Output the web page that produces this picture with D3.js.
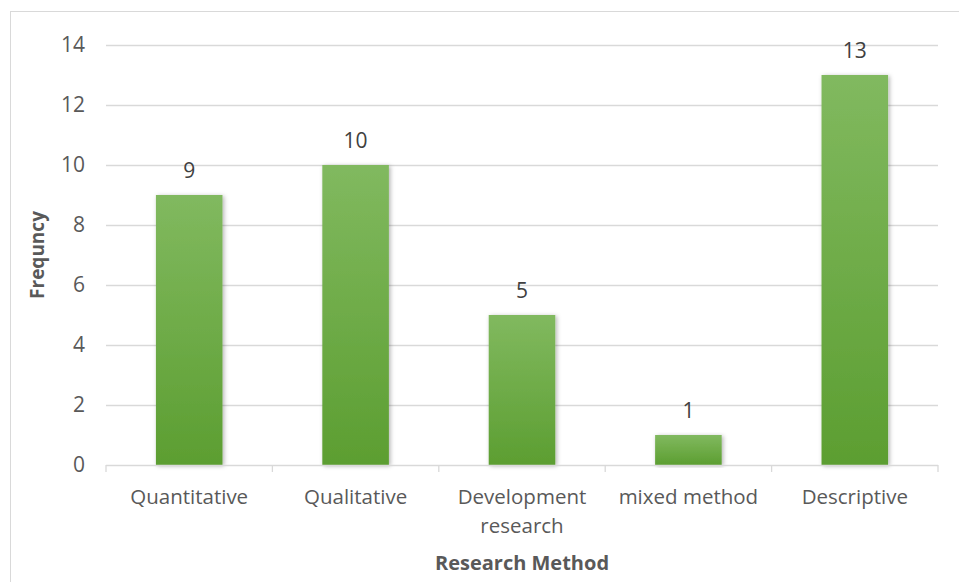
<!DOCTYPE html>
<html>
<head>
<meta charset="utf-8">
<script src="https://cdn.jsdelivr.net/npm/d3@7"></script>
<style>
  body { margin: 0; background: #fff; }
  svg text { font-family: "Open Sans", sans-serif; }
</style>
</head>
<body>
<div id="chart"></div>
<script>
(function () {
  'use strict';
  /* global d3 */

  var categories = ['Quantitative', 'Qualitative', 'Development research', 'mixed method', 'Descriptive'],
      values = [9, 10, 5, 1, 13],
      yTicks = [0, 2, 4, 6, 8, 10, 12, 14];

  var w = 959,
      h = 582,
      margin = {top: 45, right: 21, bottom: 117, left: 106};

  var svg = d3.select('#chart')
    .append('svg')
    .attr('width', w)
    .attr('height', h);

  // outer frame (only top + left visible)
  svg.append('rect')
    .attr('x', 10.5).attr('y', 11.5)
    .attr('width', 960).attr('height', 600)
    .attr('fill', 'none')
    .attr('stroke', '#d9d9d9');

  var defs = svg.append('defs');
  var grad = defs.append('linearGradient')
    .attr('id', 'barGrad')
    .attr('x1', 0).attr('y1', 0).attr('x2', 0).attr('y2', 1);
  grad.append('stop').attr('offset', '0%').attr('stop-color', '#81b95f');
  grad.append('stop').attr('offset', '100%').attr('stop-color', '#5c9e31');

  var shadow = defs.append('filter').attr('id', 'shadow')
    .attr('x', '-20%').attr('y', '-10%').attr('width', '140%').attr('height', '120%');
  shadow.append('feDropShadow')
    .attr('dx', 1.5).attr('dy', 1).attr('stdDeviation', 2)
    .attr('flood-color', '#000').attr('flood-opacity', 0.3);

  var x = d3.scaleBand()
    .domain(categories)
    .range([margin.left, w - margin.right])
    .paddingInner(0.6)
    .paddingOuter(0.3);

  var y = d3.scaleLinear()
    .domain([0, 14])
    .range([h - margin.bottom, margin.top]);

  // gridlines
  svg.append('g')
    .selectAll('line')
    .data(yTicks.slice(1))
    .enter()
    .append('line')
    .attr('x1', margin.left)
    .attr('x2', w - margin.right)
    .attr('y1', function (d) { return Math.round(y(d)) + 0.5; })
    .attr('y2', function (d) { return Math.round(y(d)) + 0.5; })
    .attr('stroke', '#d9d9d9')
    .attr('stroke-width', 1.3);

  // y axis labels
  var yAxis = d3.axisLeft(y).tickValues(yTicks).tickSize(0).tickPadding(21);
  var gy = svg.append('g')
    .attr('transform', 'translate(' + margin.left + ',0)')
    .call(yAxis);
  gy.select('.domain').remove();
  gy.selectAll('text')
    .attr('font-size', 21)
    .attr('fill', '#595959')
    .style('font-family', '"Open Sans", sans-serif');

  // bars
  svg.append('g')
    .selectAll('rect')
    .data(values)
    .enter()
    .append('rect')
    .attr('x', function (d, i) { return x(categories[i]); })
    .attr('y', function (d) { return y(d); })
    .attr('width', x.bandwidth())
    .attr('height', function (d) { return y(0) - y(d); })
    .attr('fill', 'url(#barGrad)')
    .attr('filter', 'url(#shadow)');

  // value labels
  svg.append('g')
    .selectAll('text')
    .data(values)
    .enter()
    .append('text')
    .text(function (d) { return d; })
    .attr('x', function (d, i) { return x(categories[i]) + x.bandwidth() / 2; })
    .attr('y', function (d) { return y(d) - 17; })
    .attr('text-anchor', 'middle')
    .attr('font-size', 21)
    .attr('fill', '#404040');

  // x axis
  var step = x.step();
  var x0 = margin.left;
  svg.append('line')
    .attr('x1', margin.left).attr('x2', w - margin.right)
    .attr('y1', y(0) + 0.5).attr('y2', y(0) + 0.5)
    .attr('stroke', '#d9d9d9').attr('stroke-width', 1.3);
  svg.append('g')
    .selectAll('line')
    .data(d3.range(categories.length + 1))
    .enter()
    .append('line')
    .attr('x1', function (d) { return x0 + d * step; })
    .attr('x2', function (d) { return x0 + d * step; })
    .attr('y1', y(0))
    .attr('y2', y(0) + 7)
    .attr('stroke', '#d9d9d9').attr('stroke-width', 1.3);

  var catLines = [['Quantitative'], ['Qualitative'], ['Development', 'research'], ['mixed method'], ['Descriptive']];
  var lab = svg.append('g')
    .selectAll('text')
    .data(categories)
    .enter()
    .append('text')
    .attr('x', function (d) { return x(d) + x.bandwidth() / 2; })
    .attr('y', y(0) + 39)
    .attr('text-anchor', 'middle')
    .attr('font-size', 20.5)
    .attr('fill', '#595959');
  lab.selectAll('tspan')
    .data(function (d, i) { return catLines[i]; })
    .enter()
    .append('tspan')
    .attr('x', function () { return d3.select(this.parentNode).attr('x'); })
    .attr('dy', function (d, i) { return i === 0 ? 0 : 29; })
    .text(function (d) { return d; });

  // axis titles
  svg.append('text')
    .text('Research Method')
    .attr('x', (margin.left + w - margin.right) / 2)
    .attr('y', 570)
    .attr('text-anchor', 'middle')
    .attr('font-size', 20)
    .attr('font-weight', 'bold')
    .attr('fill', '#595959');

  svg.append('text')
    .text('Frequncy')
    .attr('transform', 'translate(44,' + ((margin.top + y(0)) / 2) + ') rotate(-90)')
    .attr('text-anchor', 'middle')
    .attr('font-size', 19)
    .attr('font-weight', 'bold')
    .attr('fill', '#595959');
}());
</script>
</body>
</html>
